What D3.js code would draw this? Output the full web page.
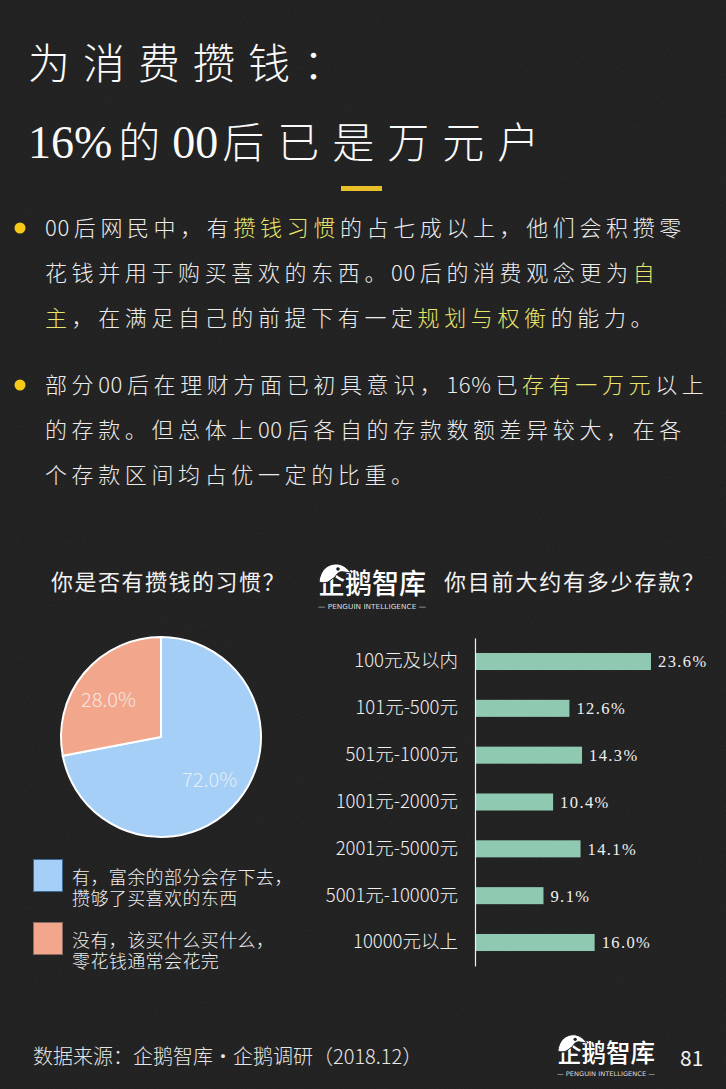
<!DOCTYPE html>
<html><head><meta charset="utf-8">
<script src="https://cdn.jsdelivr.net/npm/d3@7"></script>
<style>
html,body{margin:0;padding:0;background:#1d1d1d;}
svg{display:block;}
</style></head>
<body>
<script>
// ---------- data ----------
const pieLabels = ["有，富余的部分会存下去，|攒够了买喜欢的东西", "没有，该买什么买什么，|零花钱通常会花完"];
const pieValues = [72.0, 28.0];
const barCategories = ["100元及以内", "101元-500元", "501元-1000元", "1001元-2000元", "2001元-5000元", "5001元-10000元", "10000元以上"];
const barValues = [23.6, 12.6, 14.3, 10.4, 14.1, 9.1, 16.0];
const titleLines = ["为消费攒钱：", "16%的00后已是万元户"];
const para1 = [
  [["00后网民中，有",0],["攒钱习惯",1],["的占七成以上，他们会积攒零",0]],
  [["花钱并用于购买喜欢的东西。00后的消费观念更为",0],["自",1]],
  [["主",1],["，在满足自己的前提下有一定",0],["规划与权衡",1],["的能力。",0]]
];
const para2 = [
  [["部分00后在理财方面已初具意识，16%已",0],["存有一万元",1],["以上",0]],
  [["的存款。但总体上00后各自的存款数额差异较大，在各",0]],
  [["个存款区间均占优一定的比重。",0]]
];
const leftHeading = "你是否有攒钱的习惯？";
const rightHeading = "你目前大约有多少存款？";
const sourceText = "数据来源：企鹅智库·企鹅调研（2018.12）";
const pageNumber = "81";

const W = 726, H = 1089;
const CJK = "'Noto Sans CJK SC','Noto Sans',sans-serif";
const svg = d3.select("body").append("svg").attr("width", W).attr("height", H);

// background with subtle texture
const defs = svg.append("defs");
const filt = defs.append("filter").attr("id","noise").attr("x",0).attr("y",0).attr("width","100%").attr("height","100%");
filt.append("feTurbulence").attr("type","fractalNoise").attr("baseFrequency",0.9).attr("numOctaves",2).attr("seed",3).attr("result","n");
filt.append("feColorMatrix").attr("type","matrix").attr("values","0 0 0 0 1  0 0 0 0 1  0 0 0 0 1  0 0 0 0.05 0");
svg.append("rect").attr("width",W).attr("height",H).attr("fill","#1d1d1d");
svg.append("rect").attr("width",W).attr("height",H).attr("filter","url(#noise)");

// ---------- title ----------
svg.append("text").attr("x",28).attr("y",79).attr("fill","#fafafa")
  .attr("font-family",CJK).attr("font-size",42).attr("font-weight",300).attr("letter-spacing",13)
  .text(titleLines[0]);
const t2 = svg.append("text").attr("x",28).attr("y",158).attr("fill","#fafafa")
  .attr("font-family",CJK).attr("font-size",42).attr("font-weight",300);
t2.append("tspan").attr("font-family","'Liberation Serif',serif").attr("font-size",46).attr("letter-spacing",0).text("16%");
t2.append("tspan").attr("dx",6).attr("letter-spacing",12).text("的");
t2.append("tspan").attr("font-family","'Liberation Serif',serif").attr("font-size",46).attr("letter-spacing",0).text("00");
t2.append("tspan").attr("dx",4).attr("letter-spacing",13).text("后已是万元户");
svg.append("rect").attr("x",341).attr("y",186).attr("width",41).attr("height",5).attr("fill","#e9bf2a");

// ---------- bullets ----------
function para(lines, y0){
  svg.append("circle").attr("cx",20).attr("cy",y0-8).attr("r",5.5).attr("fill","#f6c817");
  lines.forEach((segs,i)=>{
    const t = svg.append("text").attr("x",45).attr("y",y0+i*45)
      .attr("font-family",CJK).attr("font-size",22).attr("font-weight",300);
    let prev = null;
    segs.forEach(s=>{
      const chars = Array.from(s[0]);
      const dx = chars.map(c=>{
        let v = 0;
        if (prev !== null) {
          const pa = /[0-9%]/.test(prev), ca = /[0-9%]/.test(c);
          v = (pa && ca) ? 0.6 : 4.6;
        }
        prev = c;
        return v;
      });
      t.append("tspan").attr("fill", s[1] ? "#e9e56a" : "#ececec").attr("dx", dx.join(" ")).text(s[0]);
    });
  });
}
para(para1, 236);
para(para2, 393);

// ---------- headings ----------
svg.append("text").attr("x",51).attr("y",590).attr("fill","#f2f2f2")
  .attr("font-family",CJK).attr("font-size",22).attr("letter-spacing",1.5).text(leftHeading);
svg.append("text").attr("x",444).attr("y",590).attr("fill","#f2f2f2")
  .attr("font-family",CJK).attr("font-size",22).attr("letter-spacing",1.8).text(rightHeading);

// logo
function logo(x, y, w){
  const g = svg.append("g").attr("transform",`translate(${x},${y})`);
  const s = w/108;
  const gg = g.append("g").attr("transform",`scale(${s})`);
  gg.append("text").attr("x",0).attr("y",32).attr("fill","#fff").attr("font-family",CJK)
    .attr("font-size",28).attr("font-weight",500).attr("textLength",108).attr("lengthAdjust","spacingAndGlyphs").text("企鹅智库");
  gg.append("path").attr("d","M1,20 C2,8 10,1 20,2 C26,3 30,7 33,11 L26,10 C22,9 19,11 17,15 L10,20 C7,21 4,21 1,20 Z")
    .attr("fill","#fff").attr("stroke","#1d1d1d").attr("stroke-width",1);
  gg.append("circle").attr("cx",20).attr("cy",7).attr("r",1.8).attr("fill","#1d1d1d");
  gg.append("text").attr("x",54).attr("y",47).attr("fill","#dcdcdc").attr("font-family","'DejaVu Sans',sans-serif")
    .attr("font-size",7).attr("text-anchor","middle").attr("textLength",108).attr("lengthAdjust","spacingAndGlyphs")
    .text("— PENGUIN INTELLIGENCE —");
}
logo(318, 562, 108);
logo(557, 1033, 98);

// ---------- pie ----------
const pcx = 161, pcy = 737, R = 100;
const pieColors = ["#a5cff6", "#f2a68c"];
const pie = d3.pie().sort(null).value(d=>d)(pieValues);
const arc = d3.arc().innerRadius(0).outerRadius(R);
const labelArc = d3.arc().innerRadius(63).outerRadius(63);
const pg = svg.append("g").attr("transform",`translate(${pcx},${pcy})`);
pg.selectAll("path").data(pie).join("path").attr("d",arc)
  .attr("fill",(d,i)=>pieColors[i]).attr("stroke","#ffffff").attr("stroke-width",2);
pg.selectAll("text").data(pie).join("text")
  .attr("transform",(d,i)=>{const c=labelArc.centroid(d);return `translate(${c[0]+(i?-4:0)},${c[1]+3})`;})
  .attr("text-anchor","middle").attr("dy","0.35em")
  .attr("fill","#f4f4f4").attr("fill-opacity",0.85).attr("font-family",CJK).attr("font-weight",300).attr("font-size",20)
  .text(d=>d.data.toFixed(1)+"%");

// legend
const lg = svg.append("g");
pieLabels.forEach((lab,i)=>{
  const y = 859 + i*63;
  lg.append("rect").attr("x",33.5).attr("y",y+0.5).attr("width",29).attr("height",32)
    .attr("fill",pieColors[i]).attr("stroke", i===0 ? "#3d6a95" : "#8a6a60").attr("stroke-width",1);
  lab.split("|").forEach((ln,j)=>{
    lg.append("text").attr("x",72).attr("y",y+25+j*21).attr("fill","#eeeeee")
      .attr("font-family",CJK).attr("font-weight",300).attr("font-size",18).attr("letter-spacing",0.4).text(ln);
  });
});

// ---------- bars ----------
const x = d3.scaleLinear().domain([0, 23.6]).range([476, 651]);
const y = d3.scaleBand().domain(barCategories).range([638, 966]).paddingInner(0.636).paddingOuter(0.32);
const bg = svg.append("g");
bg.selectAll("rect").data(barCategories).join("rect")
  .attr("x",x(0)).attr("y",d=>y(d)).attr("height",y.bandwidth())
  .attr("width",(d,i)=>x(barValues[i])-x(0)).attr("fill","#8fc9b1");
bg.selectAll("text.v").data(barCategories).join("text").attr("class","v")
  .attr("x",(d,i)=>x(barValues[i])+7).attr("y",d=>y(d)+y.bandwidth()/2).attr("dy","0.36em")
  .attr("fill","#f0f0f0").attr("font-family","'Liberation Serif',serif").attr("font-size",16.5).attr("letter-spacing",1.4)
  .text((d,i)=>barValues[i].toFixed(1)+"%");
const yAxis = d3.axisLeft(y).tickSize(0).tickPadding(17);
const ax = svg.append("g").attr("transform",`translate(${x(0)-1},0)`).call(yAxis);
ax.select(".domain").attr("stroke","#f0f0f0").attr("stroke-width",1.2);
ax.selectAll("text").attr("fill","#f0f0f0").attr("font-family",CJK).attr("font-weight",300).attr("font-size",18.5);

// ---------- footer ----------
svg.append("text").attr("x",33).attr("y",1064).attr("fill","#e6e6e6")
  .attr("font-family",CJK).attr("font-weight",300).attr("font-size",20).text(sourceText);
svg.append("text").attr("x",680).attr("y",1066).attr("fill","#f2f2f2")
  .attr("font-family",CJK).attr("font-size",21).text(pageNumber);
</script>
</body></html>
